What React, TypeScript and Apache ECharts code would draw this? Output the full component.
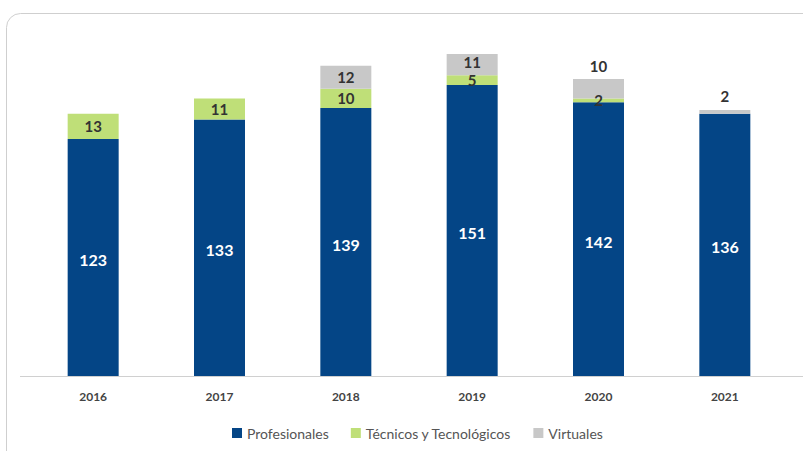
import React, { useEffect, useRef } from "react";
import * as echarts from "echarts";

const years = ["2016", "2017", "2018", "2019", "2020", "2021"];
const profesionales = [123, 133, 139, 151, 142, 136];
const tecnicos = [13, 11, 10, 5, 2, 0];
const virtuales = [0, 0, 12, 11, 10, 2];
const virtualesLabelOutside = [false, false, false, false, true, true];

export default function App() {
  const ref = useRef<HTMLDivElement>(null);
  useEffect(() => {
    if (!ref.current) return;
    const chart = echarts.init(ref.current, null, { renderer: "svg" });
    const font = "Lato, 'Open Sans', sans-serif";
    chart.setOption({
      animation: false,
      textStyle: { fontFamily: font },
      grid: { left: 30, right: 15, top: 29, bottom: 75 },
      graphic: [
        {
          type: "rect",
          shape: { x: 6.5, y: 13.5, width: 830, height: 470, r: 14 },
          style: { fill: "none", stroke: "#cfcfcf", lineWidth: 1 },
          silent: true,
        },
        {
          type: "line",
          shape: { x1: 20, y1: 376.5, x2: 803, y2: 376.5 },
          style: { stroke: "#d0d0d0", lineWidth: 1 },
          silent: true,
        },
      ],
      legend: {
        bottom: 6,
        left: 227,
        itemWidth: 10,
        itemHeight: 10,
        itemGap: 22,
        icon: "rect",
        textStyle: { fontFamily: font, fontSize: 14, color: "#555" },
        data: ["Profesionales", "Técnicos y Tecnológicos", "Virtuales"],
      },
      xAxis: {
        type: "category",
        data: years,
        axisLine: { show: false },
        axisTick: { show: false },
        axisLabel: { color: "#444", fontWeight: "bold", fontSize: 12, margin: 14, fontFamily: font },
      },
      yAxis: { type: "value", min: 0, max: 180, show: false, splitLine: { show: false } },
      series: [
        {
          name: "Profesionales",
          type: "bar",
          stack: "t",
          barWidth: 51,
          data: profesionales,
          itemStyle: { color: "#044586" },
          label: { show: true, position: "inside", color: "#fff", fontWeight: "bold", fontSize: 16, fontFamily: font, offset: [0, 2] },
        },
        {
          name: "Técnicos y Tecnológicos",
          type: "bar",
          stack: "t",
          data: tecnicos.map((v) => ({ value: v, label: { show: v > 0 } })),
          itemStyle: { color: "#bfdf78" },
          label: { show: true, position: "inside", color: "#333", fontWeight: "bold", fontSize: 15, fontFamily: font },
        },
        {
          name: "Virtuales",
          type: "bar",
          stack: "t",
          data: virtuales.map((v, i) => ({
            value: v,
            label: {
              show: v > 0,
              position: virtualesLabelOutside[i] ? "top" : "inside",
              distance: 6,
              offset: i === 3 ? [0, -3] : [0, 0],
            },
          })),
          itemStyle: { color: "#c8c8c8" },
          label: { show: true, color: "#333", fontWeight: "bold", fontSize: 15, fontFamily: font },
        },
      ],
    });
    return () => chart.dispose();
  }, []);
  return <div ref={ref} style={{ width: 803, height: 451, position: "absolute", left: 0, top: 0 }} />;
}
